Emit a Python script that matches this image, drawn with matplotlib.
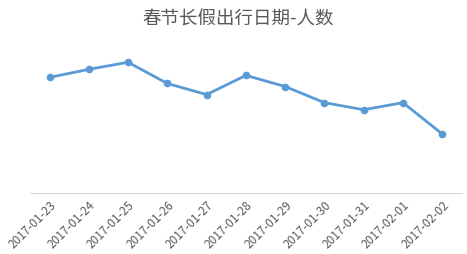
import matplotlib
matplotlib.use("Agg")
import matplotlib.pyplot as plt

plt.rcParams['font.family'] = ['Noto Sans CJK SC', 'DejaVu Sans']

dates = ["2017-01-23", "2017-01-24", "2017-01-25", "2017-01-26", "2017-01-27",
         "2017-01-28", "2017-01-29", "2017-01-30", "2017-01-31", "2017-02-01",
         "2017-02-02"]
people = [114, 122, 129, 108, 97, 116, 105, 89, 82, 89, 58]

fig = plt.figure(figsize=(4.67, 2.55), dpi=100)
ax = fig.add_axes([0.064, 0.241, 0.925, 0.602])

x = list(range(len(dates)))
ax.plot(x, people, color="#5B9BD5", linewidth=2.0, marker="o", markersize=4.5,
        solid_capstyle="round", solid_joinstyle="round")

ax.set_xlim(-0.5, len(dates) - 0.5)
ax.set_ylim(0, 152)
ax.set_yticks([])
ax.set_xticks(x)
ax.set_xticklabels(dates, rotation=45, ha="right", rotation_mode="anchor",
                   fontsize=8.5, color="#595959")
ax.tick_params(axis="x", length=0, pad=4)

for side in ("top", "right", "left"):
    ax.spines[side].set_visible(False)
ax.spines["bottom"].set_color("#D9D9D9")
ax.spines["bottom"].set_linewidth(0.8)

fig.text(0.51, 0.925, "春节长假出行日期-人数", ha="center", va="center",
         fontsize=13.3, color="#595959")

fig.savefig("out.png", dpi=100)
